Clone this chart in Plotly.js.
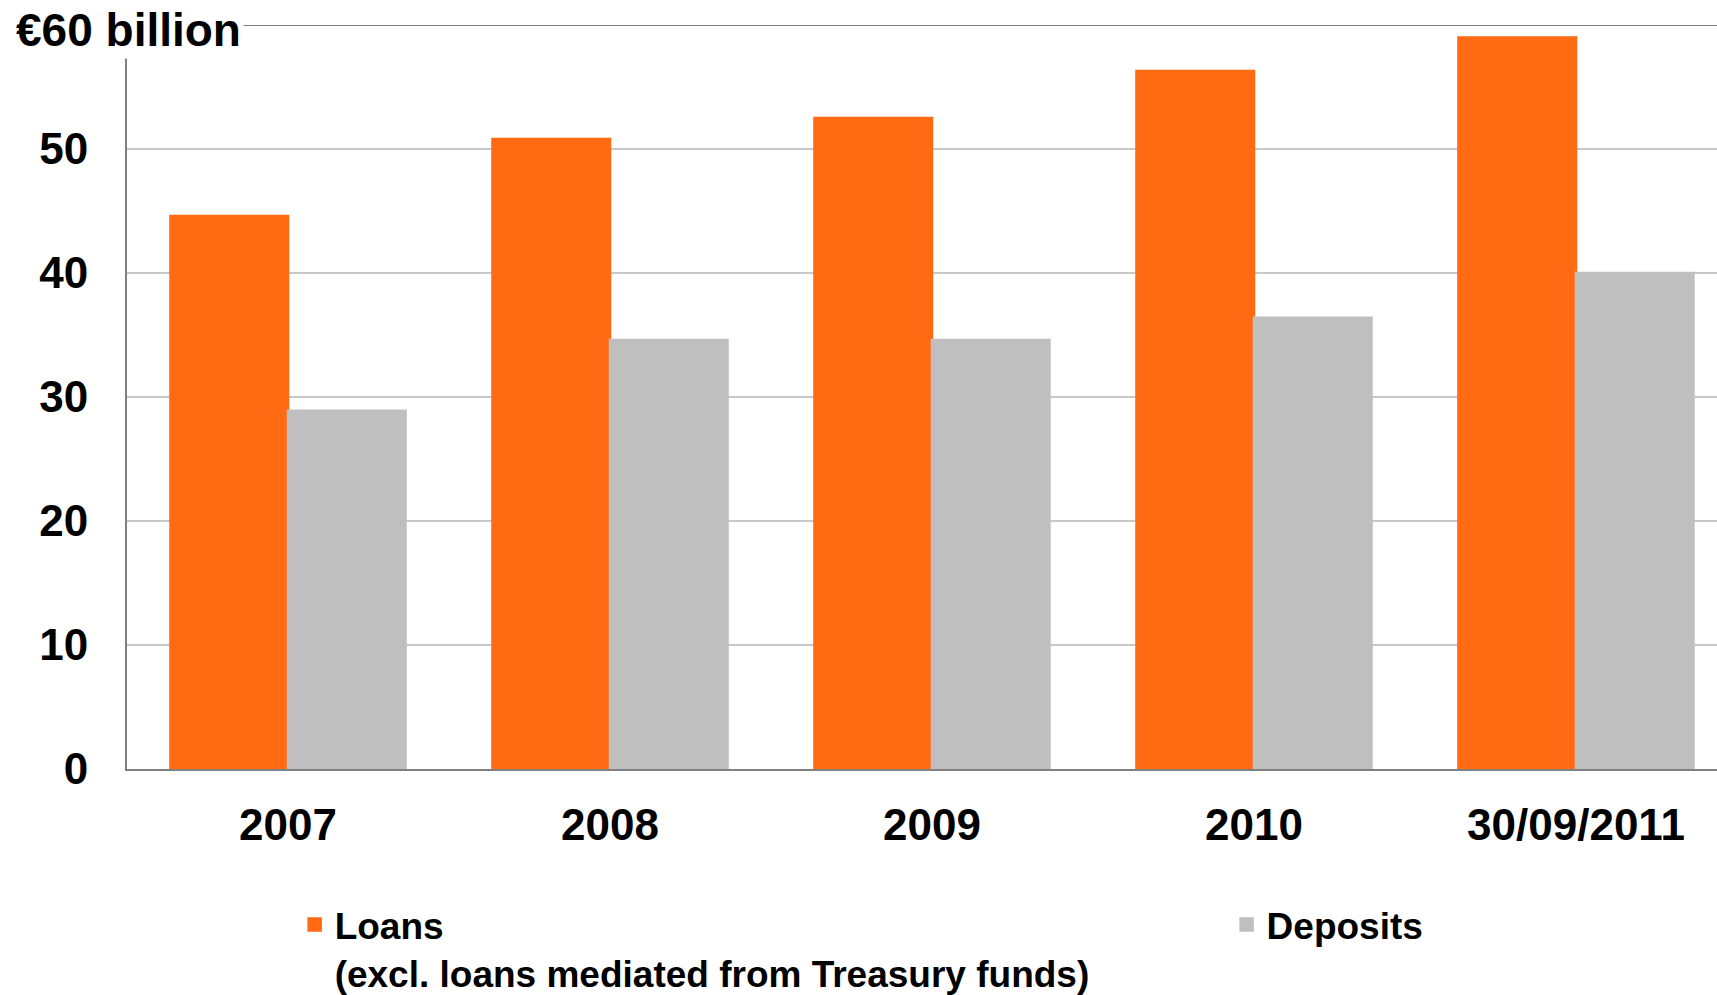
<!DOCTYPE html>
<html>
<head>
<meta charset="utf-8">
<script src="https://cdn.plot.ly/plotly-3.0.1.min.js"></script>
<style>
  html, body { margin: 0; padding: 0; background: #fff; }
  #chart { width: 1717px; height: 995px; }
</style>
</head>
<body>
<div id="chart"></div>
<script>
const categories = ["2007", "2008", "2009", "2010", "30/09/2011"];
const loans = [44.6, 50.8, 52.5, 56.3, 59.0];
const deposits = [28.9, 34.6, 34.6, 36.4, 40.0];
const seriesNames = ["Loans<br>(excl. loans mediated from Treasury funds)", "Deposits"];
const yTickVals = [0, 10, 20, 30, 40, 50];
const yTickText = ["0", "10", "20", "30", "40", "50"];
const unitLabel = "€60 billion";

const FONT = "'Liberation Sans', Arial, sans-serif";
const LEGEND_FONT = { family: FONT, size: 37, color: "#000000", weight: "bold" };

const traces = [
  {
    type: "bar",
    name: seriesNames[0],
    x: categories,
    y: loans,
    legend: "legend",
    marker: { color: "#ff6a13", line: { width: 2.5, color: "#ff6a13" } },
    hoverinfo: "y"
  },
  {
    type: "bar",
    name: seriesNames[1],
    x: categories,
    y: deposits,
    legend: "legend2",
    marker: { color: "#bfbfbf", line: { width: 2.5, color: "#bfbfbf" } },
    hoverinfo: "y"
  }
];

const layout = {
  width: 1717,
  height: 995,
  margin: { l: 127, r: 0, t: 25, b: 226 },
  paper_bgcolor: "#ffffff",
  plot_bgcolor: "#ffffff",
  font: { family: FONT, color: "#000000" },
  barmode: "group",
  bargap: 0.27,
  bargroupgap: 0,
  showlegend: true,
  legend: {
    orientation: "h",
    xref: "container",
    yref: "container",
    x: 0.1716,
    y: 0.1015,
    xanchor: "left",
    yanchor: "top",
    valign: "top",
    font: LEGEND_FONT,
    bgcolor: "rgba(0,0,0,0)"
  },
  legend2: {
    orientation: "h",
    xref: "container",
    yref: "container",
    x: 0.7144,
    y: 0.1015,
    xanchor: "left",
    yanchor: "top",
    valign: "top",
    font: LEGEND_FONT,
    bgcolor: "rgba(0,0,0,0)"
  },
  xaxis: {
    type: "category",
    range: [-0.5, 4.438],
    showgrid: false,
    showline: true,
    linecolor: "#808080",
    linewidth: 2,
    ticks: "",
    ticklabelstandoff: 16,
    tickfont: { family: FONT, size: 44, color: "#000000", weight: "bold" },
    fixedrange: true
  },
  yaxis: {
    range: [0, 60],
    tickvals: yTickVals,
    ticktext: yTickText,
    showgrid: true,
    gridcolor: "#c8c8c8",
    gridwidth: 1.5,
    zeroline: false,
    showline: true,
    linecolor: "#808080",
    linewidth: 2,
    ticks: "",
    ticklabelstandoff: 28,
    tickfont: { family: FONT, size: 44, color: "#000000", weight: "bold" },
    fixedrange: true
  },
  shapes: [
    {
      type: "line",
      xref: "paper",
      yref: "y",
      x0: 0, x1: 1,
      y0: 60, y1: 60,
      line: { color: "#808080", width: 2 },
      layer: "above"
    }
  ],
  annotations: [
    {
      text: unitLabel,
      xref: "paper",
      yref: "y",
      x: -0.0717,
      y: 60,
      xanchor: "left",
      yanchor: "middle",
      yshift: -5,
      showarrow: false,
      bgcolor: "#ffffff",
      borderpad: 2,
      font: { family: FONT, size: 46, color: "#000000", weight: "bold" }
    }
  ]
};

Plotly.newPlot("chart", traces, layout, { displayModeBar: false, staticPlot: true });
</script>
</body>
</html>
